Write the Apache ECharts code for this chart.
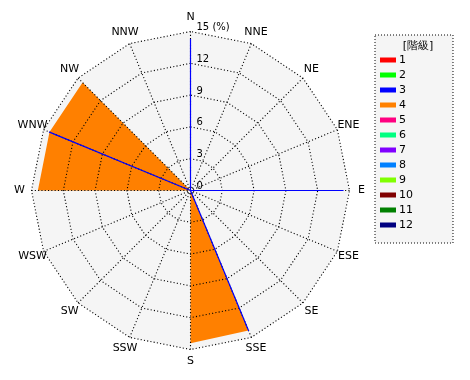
<!DOCTYPE html>
<html>
<head>
<meta charset="utf-8">
<script src="https://cdn.jsdelivr.net/npm/echarts@6/dist/echarts.min.js"></script>
<style>html,body{margin:0;padding:0;background:#fff;}#c{width:470px;height:380px;}</style>
</head>
<body>
<div id="c"></div>
<script>
// Directions, clockwise from north
const directions = ['N','NNE','NE','ENE','E','ESE','SE','SSE','S','SSW','SW','WSW','W','WNW','NW','NNW'];
// Class names (legend)
const classNames = ['1','2','3','4','5','6','7','8','9','10','11','12'];
const classColors = ['#ff0000','#00ff00','#0000ff','#ff8000','#ff0080','#00ff80','#8000ff','#0080ff','#80ff00','#800000','#008000','#000080'];
// Frequencies (%) per direction, clockwise from N
const class3 = [14.3,0,0,0,14.4,0,0,14.3,0,0,0,0,0,14.4,0,0];
const class4 = [0,0,0,0,0,0,0,14.3,14.4,0,0,0,14.4,14.4,14.4,0];
const radialMax = 15;
const radialSplits = 5;
const unitLabel = '(%)';
const legendTitle = '[階級]';

// ECharts radar goes counter-clockwise; reorder so directions run clockwise
const order = [0].concat(directions.map((d,i)=>i).slice(1).reverse());
const reorder = arr => order.map(i => arr[i]);

const font = 'DejaVu Sans';
const indicatorsBase = order.map(i => ({ name: directions[i], max: radialMax, min: 0 }));
const indicatorsTop = indicatorsBase.map((ind, k) => k === 0 ? Object.assign({}, ind, {
  axisLabel: {
    show: true, color: '#000', fontSize: 10, fontFamily: font,
    align: 'left', verticalAlign: 'bottom', lineHeight: 8, margin: -6,
    formatter: v => v === radialMax ? v + ' ' + unitLabel : String(v)
  }
}) : ind);

const seriesData = { '3': class3, '4': class4 };
const series = classNames.map((name, idx) => {
  const vals = seriesData[name];
  const s = {
    name: name, type: 'radar', radarIndex: 0, symbol: 'none', silent: true,
    emphasis: { disabled: true },
    data: vals ? [{ value: reorder(vals), name: name }] : []
  };
  if (name === '4') {
    s.z = 2;
    s.lineStyle = { width: 0, color: classColors[idx] };
    s.areaStyle = { color: classColors[idx], opacity: 1 };
  } else if (name === '3') {
    s.z = 5;
    s.lineStyle = { width: 1.2, color: classColors[idx] };
  }
  return s;
});

const dotted = { color: '#000', width: 1.1, type: [1.1, 2.2] };
const C = [190.5, 190.5];
const R = 159;
const chart = echarts.init(document.getElementById('c'), null, { renderer: 'canvas' });
chart.setOption({
  animation: false,
  backgroundColor: '#ffffff',
  color: classColors,
  textStyle: { fontFamily: font },
  title: {
    text: legendTitle, left: 413, top: 36, textAlign: 'center',
    textStyle: { fontSize: 11, fontWeight: 'normal', color: '#000', fontFamily: font }
  },
  legend: {
    orient: 'vertical', left: 375, top: 35,
    data: classNames,
    icon: 'rect', itemWidth: 16, itemHeight: 5, itemGap: 3,
    padding: [19, 40, 12, 5],
    backgroundColor: '#f5f5f5', borderColor: '#000', borderWidth: 1, borderType: [1, 2],
    textStyle: { fontSize: 11, color: '#000', lineHeight: 12, fontFamily: font, padding: [0,0,0,-2] },
    selectedMode: false
  },
  // polar system used only for the dotted direction spokes
  polar: { center: C, radius: R },
  angleAxis: {
    type: 'value', min: 0, max: 360, interval: 360 / directions.length,
    startAngle: 90, clockwise: true, z: 3,
    axisLine: { show: false }, axisTick: { show: false }, axisLabel: { show: false },
    splitLine: { show: true, lineStyle: dotted }
  },
  radiusAxis: {
    type: 'value', min: 0, max: radialMax, show: false,
    splitLine: { show: false }, axisLine: { show: false }, axisLabel: { show: false }, axisTick: { show: false }
  },
  radar: [
    {
      z: 0, center: C, radius: R, startAngle: 90, shape: 'polygon',
      splitNumber: radialSplits,
      indicator: indicatorsBase,
      axisName: { show: false },
      axisLine: { show: false }, splitLine: { show: false },
      splitArea: { show: true, areaStyle: { color: ['#f5f5f5', '#f5f5f5'] } },
      axisLabel: { show: false }, axisTick: { show: false }
    },
    {
      z: 3, center: C, radius: R, startAngle: 90, shape: 'polygon',
      splitNumber: radialSplits,
      indicator: indicatorsTop,
      axisNameGap: 12,
      axisName: { show: true, color: '#000', fontSize: 11, fontFamily: font, align: 'center', verticalAlign: 'middle' },
      axisLine: { show: false },
      splitLine: { show: true, lineStyle: dotted },
      splitArea: { show: false },
      axisLabel: { show: false }, axisTick: { show: false }
    }
  ],
  series: series
});
</script>
</body>
</html>
